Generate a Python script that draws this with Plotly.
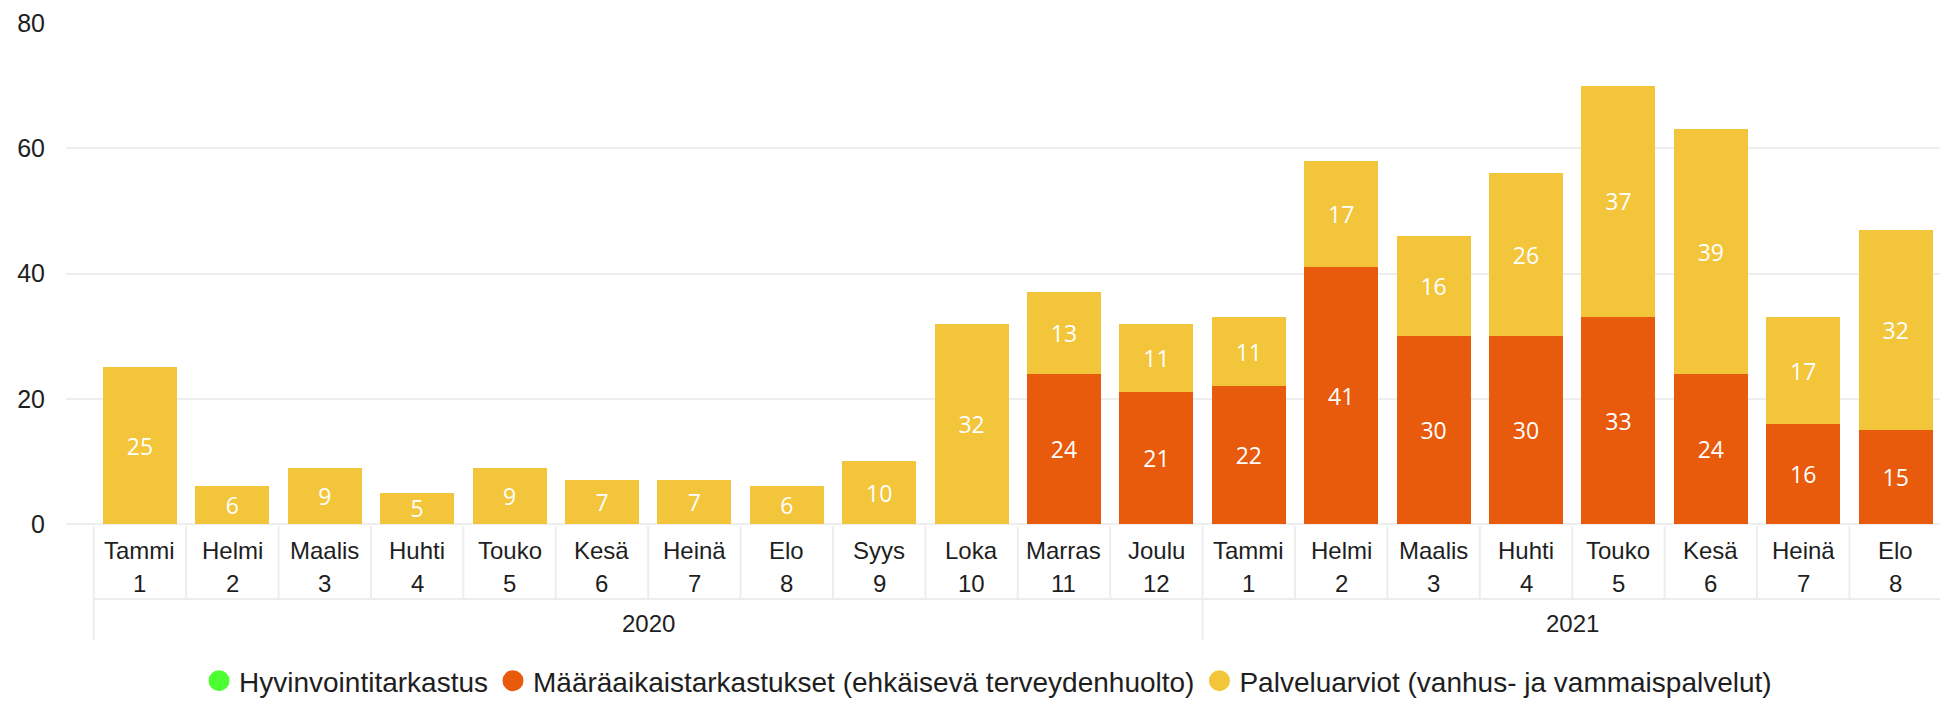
import plotly.graph_objects as go

# Monthly inspections, Jan 2020 - Aug 2021
years = ["2020"] * 12 + ["2021"] * 8
months = ["Tammi", "Helmi", "Maalis", "Huhti", "Touko", "Kesä", "Heinä", "Elo",
          "Syys", "Loka", "Marras", "Joulu",
          "Tammi", "Helmi", "Maalis", "Huhti", "Touko", "Kesä", "Heinä", "Elo"]
month_numbers = ["1", "2", "3", "4", "5", "6", "7", "8", "9", "10", "11", "12",
                 "1", "2", "3", "4", "5", "6", "7", "8"]

hyvinvointi = [None] * 20
maaraaikais = [None, None, None, None, None, None, None, None, None, None, 24, 21,
               22, 41, 30, 30, 33, 24, 16, 15]
palveluarviot = [25, 6, 9, 5, 9, 7, 7, 6, 10, 32, 13, 11,
                 11, 17, 16, 26, 37, 39, 17, 32]

series_names = ["Hyvinvointitarkastus",
                "Määräaikaistarkastukset (ehkäisevä terveydenhuolto)",
                "Palveluarviot (vanhus- ja vammaispalvelut)"]
series_colors = ["#4CFF33", "#E85A0C", "#F2C53A"]

W, H = 1940, 701
M_L, M_R, M_T, M_B = 66, 0, 23, 177
plot_h = H - M_T - M_B
base_px = H - M_B


def py(pix):
    """Convert a pixel row (from the top of the page) to paper y."""
    return (base_px - pix) / plot_h


pos = list(range(len(months)))
label_font = "Segoe UI, Open Sans, Noto Sans, sans-serif"
axis_font = "Arial, Liberation Sans, sans-serif"
text_color = "#1e1e1e"
line_color = "#EDEDED"

fig = go.Figure()

for name, vals, color in zip(series_names, [hyvinvointi, maaraaikais, palveluarviot], series_colors):
    fig.add_trace(go.Bar(
        x=pos, y=vals, name=name, marker=dict(color=color, line=dict(width=0)),
        width=0.8,
        text=[("" if v is None else str(v)) for v in vals],
        textposition="inside", insidetextanchor="middle", textangle=0,
        textfont=dict(family=label_font, size=23, color="white"),
        showlegend=False, hoverinfo="skip",
    ))

# circular legend swatches (outline in the same colour enlarges the dot)
for name, color in zip(series_names, series_colors):
    fig.add_trace(go.Scatter(
        x=[None], y=[None], mode="markers", name=name,
        marker=dict(symbol="circle", size=16, color=color,
                    line=dict(color=color, width=5)),
        showlegend=True,
    ))

annotations = []
for i, (m, n) in enumerate(zip(months, month_numbers)):
    annotations.append(dict(x=i, y=py(550), xref="x", yref="paper", text=m,
                            showarrow=False, yanchor="middle", xanchor="center",
                            font=dict(family=axis_font, size=24, color=text_color)))
    annotations.append(dict(x=i, y=py(583), xref="x", yref="paper", text=n,
                            showarrow=False, yanchor="middle", xanchor="center",
                            font=dict(family=axis_font, size=24, color=text_color)))

# year group labels
groups = []
for i, y in enumerate(years):
    if not groups or groups[-1][0] != y:
        groups.append([y, i, i])
    else:
        groups[-1][2] = i
for y, a, b in groups:
    annotations.append(dict(x=(a + b) / 2, y=py(623), xref="x", yref="paper", text=y,
                            showarrow=False, yanchor="middle", xanchor="center",
                            font=dict(family=axis_font, size=24, color=text_color)))

shapes = []
group_edges = set([g[1] - 0.5 for g in groups] + [groups[-1][2] + 0.5])
for i in range(len(months) + 1):
    xb = i - 0.5
    y1 = py(640) if xb in group_edges else py(599)
    shapes.append(dict(type="line", xref="x", yref="paper", x0=xb, x1=xb,
                       y0=py(526), y1=y1, line=dict(color=line_color, width=2)))
shapes.append(dict(type="line", xref="x", yref="paper", x0=-0.5, x1=len(months) - 0.5,
                   y0=py(599), y1=py(599), line=dict(color=line_color, width=2)))

fig.update_layout(
    width=W, height=H,
    margin=dict(l=M_L, r=M_R, t=M_T, b=M_B, autoexpand=False),
    barmode="stack", bargap=0.2,
    plot_bgcolor="white", paper_bgcolor="white",
    uniformtext=dict(minsize=23, mode="show"),
    xaxis=dict(range=[-0.8, 19.48], showticklabels=False, showgrid=False,
               zeroline=False, showline=False, ticks="", fixedrange=True),
    yaxis=dict(range=[0, 80], dtick=20, showgrid=True, gridcolor="#EEEEEE", gridwidth=2,
               zeroline=True, zerolinecolor="#EEEEEE", zerolinewidth=2,
               showline=False, ticks="", ticklabelstandoff=20,
               tickfont=dict(family=axis_font, size=25, color=text_color)),
    legend=dict(orientation="h", x=0.492, xanchor="center", y=py(681), yanchor="middle",
                font=dict(family=axis_font, size=28, color=text_color),
                traceorder="normal", itemsizing="trace",
                bgcolor="rgba(0,0,0,0)", tracegroupgap=0),
    annotations=annotations,
    shapes=shapes,
    hovermode=False,
)

fig.write_html("out.html")
